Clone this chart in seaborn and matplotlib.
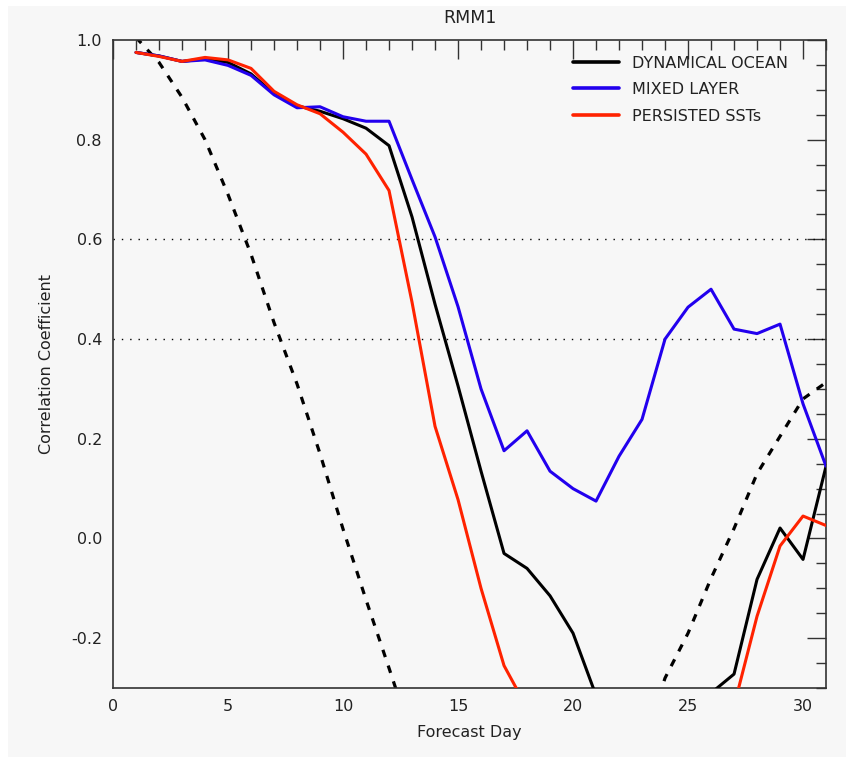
import numpy as np
import pandas as pd
import matplotlib
matplotlib.use("Agg")
import matplotlib.pyplot as plt
import seaborn as sns
from matplotlib.ticker import MultipleLocator
from matplotlib.patches import Rectangle

days = list(range(1, 32))
dynamical_ocean = [0.975, 0.968, 0.957, 0.962, 0.955, 0.932, 0.892, 0.868, 0.857, 0.842,
                   0.823, 0.788, 0.645, 0.47, 0.306, 0.135, -0.03, -0.06, -0.115, -0.19,
                   -0.315, -0.45, -0.5, -0.45, -0.38, -0.31, -0.272, -0.082, 0.021, -0.042, 0.145]
mixed_layer = [0.975, 0.968, 0.957, 0.96, 0.949, 0.929, 0.89, 0.864, 0.866, 0.846,
               0.837, 0.837, 0.72, 0.605, 0.465, 0.3, 0.176, 0.216, 0.135, 0.1,
               0.075, 0.165, 0.239, 0.4, 0.464, 0.5, 0.42, 0.411, 0.43, 0.27, 0.145]
persisted_ssts = [0.975, 0.967, 0.957, 0.965, 0.96, 0.943, 0.897, 0.87, 0.852, 0.815,
                  0.771, 0.698, 0.474, 0.225, 0.078, -0.1, -0.255, -0.34, -0.45, -0.5,
                  -0.55, -0.55, -0.5, -0.48, -0.45, -0.4, -0.336, -0.156, -0.015, 0.045, 0.026]
persistence = [1.005, 0.955, 0.885, 0.80, 0.69, 0.57, 0.433, 0.31, 0.17, 0.019,
               -0.123, -0.26, -0.40, -0.55, -0.65, -0.7, -0.72, -0.7, -0.65, -0.6,
               -0.55, -0.48, -0.42, -0.28, -0.19, -0.08, 0.02, 0.13, 0.205, 0.28, 0.313]

series_names = ["DYNAMICAL OCEAN", "MIXED LAYER", "PERSISTED SSTs"]
series_colors = ["#000000", "#2200ee", "#ff2200"]
ytick_vals = [1.0, 0.8, 0.6, 0.4, 0.2, 0.0, -0.2]
ytick_labels = ["1.0", "0.8", "0.6", "0.4", "0.2", "0.0", "-0.2"]

sns.set_style("white")
plt.rcParams["font.family"] = ["DejaVu Sans"]
plt.rcParams["axes.unicode_minus"] = False

df = pd.DataFrame({
    "day": days * 3,
    "corr": dynamical_ocean + mixed_layer + persisted_ssts,
    "model": [series_names[0]] * 31 + [series_names[1]] * 31 + [series_names[2]] * 31,
})
dfp = pd.DataFrame({"day": days, "corr": persistence})

bg = "#f7f7f7"
fig = plt.figure(figsize=(8.46, 7.57), dpi=100, facecolor=bg)
# white screenshot margins
fig.patches.append(Rectangle((0, 1 - 6 / 757), 1, 6 / 757, transform=fig.transFigure,
                             facecolor="white", edgecolor="none", zorder=-1))
fig.patches.append(Rectangle((0, 0), 8 / 846, 1, transform=fig.transFigure,
                             facecolor="white", edgecolor="none", zorder=-1))

ax = fig.add_axes([0.1336, 0.0911, 0.8428, 0.8561])
ax.set_facecolor(bg)

for yv in [0.6, 0.4]:
    ax.axhline(yv, color="black", lw=1.0, ls=(0, (1, 5)), zorder=1)

sns.lineplot(data=df, x="day", y="corr", hue="model", hue_order=series_names,
             palette=dict(zip(series_names, series_colors)), lw=2.2, ax=ax,
             estimator=None, sort=False, zorder=3)
sns.lineplot(data=dfp, x="day", y="corr", color="black", lw=2.3, ax=ax,
             estimator=None, zorder=2, legend=False)
ax.lines[-1].set_dashes([2.4, 2.8])

ax.set_xlim(0, 31)
ax.set_ylim(-0.3, 1.0)
ax.xaxis.set_major_locator(MultipleLocator(5))
ax.xaxis.set_minor_locator(MultipleLocator(1))
ax.yaxis.set_major_locator(MultipleLocator(0.2))
ax.yaxis.set_minor_locator(MultipleLocator(0.05))
ax.set_yticks(ytick_vals)
ax.set_yticklabels(ytick_labels)
ax.tick_params(which="major", direction="in", length=14, width=1.0, color="#333333",
               top=True, right=True, labelsize=11.5, labelcolor="#222222", pad=8)
ax.tick_params(which="minor", direction="in", length=7, width=1.0, color="#333333",
               top=True, right=True)
for s in ax.spines.values():
    s.set_color("#333333")
    s.set_linewidth(1.2)

ax.set_xlabel("Forecast Day", fontsize=11.5, color="#222222", labelpad=8)
ax.set_ylabel("Correlation Coefficient", fontsize=11.5, color="#222222", labelpad=12)
ax.set_title("RMM1", fontsize=12.5, color="#222222", pad=12)

leg = ax.legend(loc="upper left", bbox_to_anchor=(0.645, 0.976), frameon=False,
                fontsize=11.5, handlelength=2.9, handletextpad=0.8, labelspacing=0.72,
                borderpad=0, borderaxespad=0)
for t in leg.get_texts():
    t.set_color("#222222")
for h in leg.get_lines():
    h.set_linewidth(2.6)

fig.savefig("out.png", dpi=100, facecolor=bg)
